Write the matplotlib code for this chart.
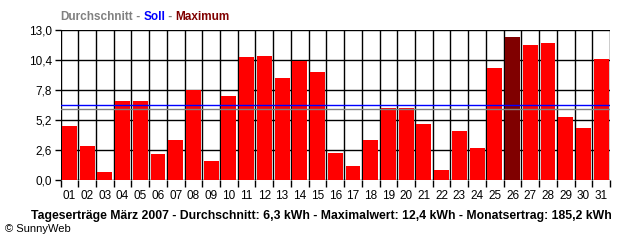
import matplotlib
matplotlib.use("Agg")
import matplotlib.pyplot as plt
import numpy as np
from matplotlib.offsetbox import TextArea, HPacker, AnchoredOffsetbox

days = ["01","02","03","04","05","06","07","08","09","10","11","12","13","14","15",
        "16","17","18","19","20","21","22","23","24","25","26","27","28","29","30","31"]
values = [4.7, 3.0, 0.7, 6.9, 6.9, 2.3, 3.5, 7.8, 1.7, 7.3, 10.7, 10.8, 8.9, 10.3, 9.4,
          2.4, 1.2, 3.5, 6.3, 6.3, 4.9, 0.9, 4.3, 2.8, 9.7, 12.4, 11.7, 11.9, 5.5, 4.5, 10.5]
avg_value = 6.2
soll_value = 6.55
yticks = [0.0, 2.6, 5.2, 7.8, 10.4, 13.0]
ytick_labels = ["0,0", "2,6", "5,2", "7,8", "10,4", "13,0"]

plt.rcParams['font.family'] = ['Liberation Sans', 'DejaVu Sans']

fig = plt.figure(figsize=(6.4, 2.4), dpi=100)
ax = fig.add_axes([60.5/640, 1-180.3/240, 549.5/640, 150/240])

n = len(values)
x = np.arange(n)
imax = int(np.argmax(values))
colors = ["#FF0000"] * n
colors[imax] = "#800000"
ax.bar(x, values, width=0.84, color=colors, zorder=2)

ax.set_xlim(-0.5, n - 0.5)
ax.set_ylim(0, 13.0)

for b in np.arange(-0.5, n, 1.0):
    ax.axvline(b, color="black", lw=1.0, zorder=1)
for yv in yticks:
    ax.axhline(yv, color="black", lw=1.0, zorder=1)

ax.axhline(soll_value, color="#0000FF", lw=1.0, zorder=3)
ax.axhline(avg_value, color="#808080", lw=1.0, zorder=3)

ax.set_yticks(yticks)
ax.set_yticklabels(ytick_labels, fontsize=8.5)
ax.set_xticks(np.arange(-0.5, n, 1.0))
ax.set_xticklabels([])
ax.set_xticks(x, minor=True)
ax.set_xticklabels(days, minor=True, fontsize=8.5)
ax.tick_params(axis="x", which="major", length=5, width=1.0, color="black")
ax.tick_params(axis="x", which="minor", length=0, pad=7)
ax.tick_params(axis="y", length=4, width=1.0, pad=2)
for s in ax.spines.values():
    s.set_visible(False)

parts = [("Durchschnitt", "#808080"), (" - ", "#808080"), ("Soll", "#0000FF"),
         (" - ", "#808080"), ("Maximum", "#800000")]
areas = [TextArea(t, textprops=dict(color=c, fontsize=8.5, fontweight="bold")) for t, c in parts]
box = HPacker(children=areas, align="baseline", pad=0, sep=0)
ab = AnchoredOffsetbox(loc="center left", child=box, pad=0, borderpad=0, frameon=False,
                       bbox_to_anchor=(60/640, 1-17/240), bbox_transform=fig.transFigure)
fig.add_artist(ab)

fig.text(321/640, 1-216/240,
         "Tageserträge März 2007 - Durchschnitt: 6,3 kWh - Maximalwert: 12,4 kWh - Monatsertrag: 185,2 kWh",
         ha="center", va="center", fontsize=8.8, fontweight="bold", color="black")
fig.text(5/640, 1-229/240, "© SunnyWeb", ha="left", va="center", fontsize=8, color="black")

fig.savefig("out.png", dpi=100)
